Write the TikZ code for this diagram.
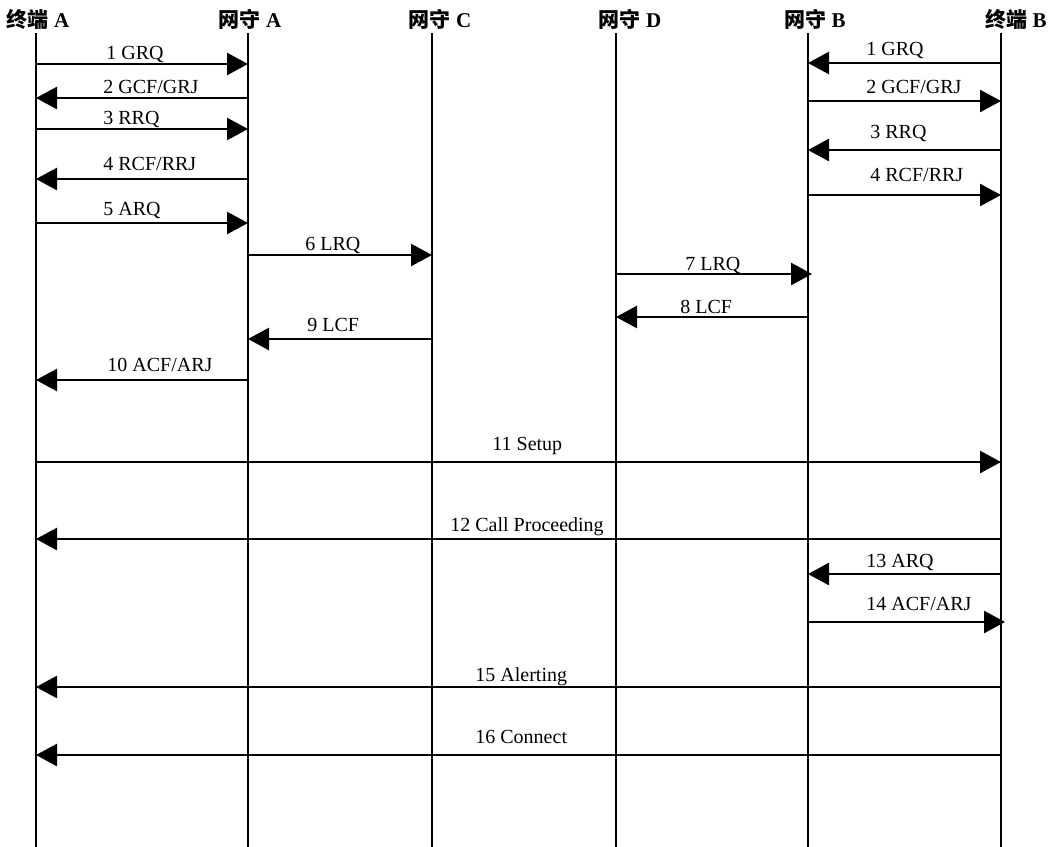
\documentclass[tikz,border=0pt]{standalone}
\usepackage{fontspec}
\setmainfont{Liberation Serif}
\newfontfamily\cjkfont{Noto Sans CJK SC}
\usetikzlibrary{arrows.meta}

\begin{document}
\begin{tikzpicture}[x=0.5pt, y=-0.5pt,
  head/.style={font=\fontsize{10.5}{12}\selectfont\bfseries, inner sep=0pt},
  lbl/.style={font=\fontsize{10}{12}\selectfont, anchor=base west, inner sep=0pt},
  life/.style={line width=1pt},
  msg/.style={line width=1.35pt, -{Triangle[length=10.5pt, width=11pt]}}
]
\useasboundingbox (0,0) rectangle (1051,847);

% participants
\node[head] (hTA) at (38,19)   {{\cjkfont 终端} A};
\node[head] (hGA) at (250,19)  {{\cjkfont 网守} A};
\node[head] (hGC) at (440,19)  {{\cjkfont 网守} C};
\node[head] (hGD) at (630,19)  {{\cjkfont 网守} D};
\node[head] (hGB) at (815,19)  {{\cjkfont 网守} B};
\node[head] (hTB) at (1016,19) {{\cjkfont 终端} B};

\coordinate (tA) at (36,33);
\coordinate (gA) at (248,33);
\coordinate (gC) at (432,33);
\coordinate (gD) at (616,33);
\coordinate (gB) at (808,33);
\coordinate (tB) at (1001,33);
\coordinate (bot) at (0,847);

\draw[life] (tA) -- (tA |- bot);
\draw[life] (gA) -- (gA |- bot);
\draw[life] (gC) -- (gC |- bot);
\draw[life] (gD) -- (gD |- bot);
\draw[life] (gB) -- (gB |- bot);
\draw[life] (tB) -- (tB |- bot);

% registration, side A
\coordinate (m1) at (0,64);
\draw[msg] (tA |- m1) -- (gA |- m1);
\node[lbl] (l1) at (106,59) {1 GRQ};
\coordinate (m2) at (0,98);
\draw[msg] (gA |- m2) -- (tA |- m2);
\node[lbl] (l2) at (103,93) {2 GCF/GRJ};
\coordinate (m3) at (0,129);
\draw[msg] (tA |- m3) -- (gA |- m3);
\node[lbl] (l3) at (103,124) {3 RRQ};
\coordinate (m4) at (0,179);
\draw[msg] (gA |- m4) -- (tA |- m4);
\node[lbl] (l4) at (103,170) {4 RCF/RRJ};
\coordinate (m5) at (0,223);
\draw[msg] (tA |- m5) -- (gA |- m5);
\node[lbl] (l5) at (103,215) {5 ARQ};

% registration, side B
\coordinate (n1) at (0,63);
\draw[msg] (tB |- n1) -- (gB |- n1);
\node[lbl] (k1) at (866,55) {1 GRQ};
\coordinate (n2) at (0,101);
\draw[msg] (gB |- n2) -- (tB |- n2);
\node[lbl] (k2) at (866,93) {2 GCF/GRJ};
\coordinate (n3) at (0,150);
\draw[msg] (tB |- n3) -- (gB |- n3);
\node[lbl] (k3) at (870,138) {3 RRQ};
\coordinate (n4) at (0,195);
\draw[msg] (gB |- n4) -- (tB |- n4);
\node[lbl] (k4) at (870,181) {4 RCF/RRJ};

% location
\coordinate (m6) at (0,255);
\draw[msg] (gA |- m6) -- (gC |- m6);
\node[lbl] (l6) at (305,250) {6 LRQ};
\coordinate (m7) at (0,274);
\draw[msg, shorten >=-2pt] (gD |- m7) -- (gB |- m7);
\node[lbl] (l7) at (685,270) {7 LRQ};
\coordinate (m8) at (0,317);
\draw[msg] (gB |- m8) -- (gD |- m8);
\node[lbl] (l8) at (680,313) {8 LCF};
\coordinate (m9) at (0,339);
\draw[msg] (gC |- m9) -- (gA |- m9);
\node[lbl] (l9) at (307,331) {9 LCF};
\coordinate (m10) at (0,380);
\draw[msg] (gA |- m10) -- (tA |- m10);
\node[lbl] (l10) at (107,371) {10 ACF/ARJ};

% call signalling
\coordinate (m11) at (0,462);
\draw[msg] (tA |- m11) -- (tB |- m11);
\node[lbl] (l11) at (492,450) {11 Setup};
\coordinate (m12) at (0,539);
\draw[msg] (tB |- m12) -- (tA |- m12);
\node[lbl] (l12) at (450,531) {12 Call Proceeding};
\coordinate (m13) at (0,574);
\draw[msg] (tB |- m13) -- (gB |- m13);
\node[lbl] (l13) at (866,567) {13 ARQ};
\coordinate (m14) at (0,622);
\draw[msg, shorten >=-2pt] (gB |- m14) -- (tB |- m14);
\node[lbl] (l14) at (866,610) {14 ACF/ARJ};
\coordinate (m15) at (0,687);
\draw[msg] (tB |- m15) -- (tA |- m15);
\node[lbl] (l15) at (475,681) {15 Alerting};
\coordinate (m16) at (0,755);
\draw[msg] (tB |- m16) -- (tA |- m16);
\node[lbl] (l16) at (475,743) {16 Connect};
\end{tikzpicture}
\end{document}
